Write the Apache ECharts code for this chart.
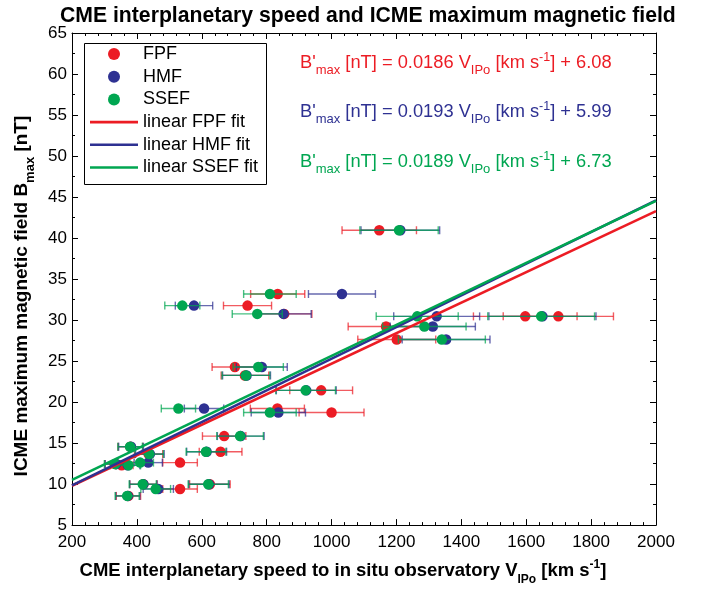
<!DOCTYPE html>
<html>
<head>
<meta charset="utf-8">
<script src="https://cdn.jsdelivr.net/npm/echarts@6/dist/echarts.min.js"></script>
<style>html,body{margin:0;padding:0;background:#fff}#c{width:704px;height:591px}</style>
</head>
<body>
<div id="c"></div>
<script>
// ---- data ----
const B_MAX  = [40.95, 33.18, 31.76, 30.75, 30.45, 30.45, 29.21, 27.63, 24.27, 23.25, 21.43, 19.21, 18.72, 15.85, 14.56, 13.95, 13.66, 12.62, 12.29, 12.45, 9.98, 9.98, 9.41, 8.56];
const V_FPF  = [1147, 834, 741, 854, 1597, 1699, 1168, 1201, 702, 733, 968, 833, 1000, 669, 380, 658, 436, 533, 353, 335, 420, 625, 533, 374];
const V_HMF  = [1212, 1032, 576, 852, 1324, 1650, 1312, 1353, 785, 738, 922, 607, 836, 720, 382, 615, 440, 435, 372, 336, 420, 622, 466, 372];
const V_SSEF = [1208, 810, 540, 771, 1264, 1646, 1286, 1340, 774, 736, 920, 528, 810, 718, 379, 613, 438, 410, 374, 333, 418, 620, 458, 370];
const REL_ERR = 0.10;               // +/- 10 % speed uncertainty
const SERIES_NAMES = ['FPF', 'HMF', 'SSEF'];
const FIT_NAMES = ['linear FPF fit', 'linear HMF fit', 'linear SSEF fit'];
const FIT_SLOPE = [0.0186, 0.0193, 0.0189];
const FIT_INTERCEPT = [6.08, 5.99, 6.73];
const FIT_RANGE = [200, 2000];
const X_TICKS = [200, 400, 600, 800, 1000, 1200, 1400, 1600, 1800, 2000];
const Y_TICKS = [5, 10, 15, 20, 25, 30, 35, 40, 45, 50, 55, 60, 65];

const COLORS = ['#ec1c24', '#2e3192', '#00a651'];
const FONT = 'Liberation Sans, Arial, sans-serif';

const speeds = [V_FPF, V_HMF, V_SSEF];
const series = [];
speeds.forEach((arr, k) => {
  const col = COLORS[k];
  series.push({
    name: SERIES_NAMES[k] + ' error',
    type: 'custom',
    z: 2 + k * 2,
    data: arr.map((v, i) => [v, B_MAX[i], v * (1 - REL_ERR), v * (1 + REL_ERR)]),
    encode: { x: [0, 2, 3], y: 1 },
    renderItem: function (params, api) {
      const y = api.value(1);
      const p1 = api.coord([api.value(2), y]);
      const p2 = api.coord([api.value(3), y]);
      const h = 4;
      const st = { stroke: col, lineWidth: 1.4, opacity: 0.72 };
      return {
        type: 'group',
        children: [
          { type: 'line', shape: { x1: p1[0], y1: p1[1], x2: p2[0], y2: p2[1] }, style: st },
          { type: 'line', shape: { x1: p1[0], y1: p1[1] - h, x2: p1[0], y2: p1[1] + h }, style: st },
          { type: 'line', shape: { x1: p2[0], y1: p2[1] - h, x2: p2[0], y2: p2[1] + h }, style: st }
        ]
      };
    },
    silent: true
  });
  series.push({
    name: SERIES_NAMES[k],
    type: 'scatter',
    z: 3 + k * 2,
    symbol: 'circle',
    symbolSize: 10.5,
    itemStyle: { color: col, opacity: 1 },
    data: arr.map((v, i) => [v, B_MAX[i]])
  });
});
FIT_NAMES.forEach((n, k) => {
  series.push({
    name: n,
    type: 'line',
    z: 10,
    symbol: 'none',
    showSymbol: false,
    lineStyle: { color: COLORS[k], width: 2.6 },
    itemStyle: { color: COLORS[k] },
    data: FIT_RANGE.map(x => [x, FIT_SLOPE[k] * x + FIT_INTERCEPT[k]])
  });
});

function eqText(k) {
  return '{b|B\'}{s|max}{b| [nT] = ' + FIT_SLOPE[k].toFixed(4) + ' V}{s|IPo}{b| [km s}{p|-1}{b|] + ' + FIT_INTERCEPT[k].toFixed(2) + '}';
}
function eqRich(col) {
  return {
    b: { fontSize: 18.3, fontFamily: FONT, fill: col, color: col, lineHeight: 30, verticalAlign: 'middle' },
    s: { fontSize: 13, fontFamily: FONT, fill: col, color: col, lineHeight: 30, verticalAlign: 'bottom', padding: [0, 0, 1, 0] },
    p: { fontSize: 12.5, fontFamily: FONT, fill: col, color: col, lineHeight: 30, verticalAlign: 'top', padding: [3, 0, 0, 0] }
  };
}
const EQ_TOP = [48, 97, 147];

const axisCommon = {
  type: 'value',
  axisLine: { lineStyle: { color: '#000', width: 1 } },
  splitLine: { show: false },
  axisTick: { inside: true, length: 6, lineStyle: { color: '#000' } }
};
const LINE_ICON = 'path://M0,0 L48,0 L48,2.6 L0,2.6 Z';

const option = {
  backgroundColor: '#fff',
  animation: false,
  title: {
    text: 'CME interplanetary speed and ICME maximum magnetic field',
    left: 55,
    top: 1,
    textStyle: { fontFamily: FONT, fontWeight: 'bold', fontSize: 21.2, color: '#000' }
  },
  grid: { left: 72, top: 33, width: 584, height: 494, containLabel: false },
  legend: {
    orient: 'vertical',
    left: 90,
    top: 45,
    padding: 0,
    itemWidth: 48,
    itemHeight: 12,
    itemGap: 4.7,
    textStyle: { fontFamily: FONT, fontSize: 18, color: '#000', lineHeight: 18 },
    data: [
      { name: 'FPF', icon: 'circle' },
      { name: 'HMF', icon: 'circle' },
      { name: 'SSEF', icon: 'circle' },
      { name: FIT_NAMES[0], icon: LINE_ICON },
      { name: FIT_NAMES[1], icon: LINE_ICON },
      { name: FIT_NAMES[2], icon: LINE_ICON }
    ]
  },
  xAxis: [
    Object.assign({}, axisCommon, {
      min: 200, max: 2000, interval: 200,
      minorTick: { show: true, splitNumber: 5, length: 3, lineStyle: { color: '#000' } },
      axisLabel: { fontFamily: FONT, fontSize: 17, color: '#000', margin: 9,
        formatter: v => X_TICKS.includes(v) ? String(v) : '' },
      name: '{b|CME interplanetary speed to in situ observatory V}{s|IPo}{b| [km s}{p|-1}{b|]}',
      nameLocation: 'middle',
      nameGap: 30,
      nameTextStyle: {
        padding: [0, 42, 0, 0],
        rich: {
          b: { fontFamily: FONT, fontWeight: 'bold', fontSize: 18.5, color: '#000', lineHeight: 30, verticalAlign: 'middle' },
          s: { fontFamily: FONT, fontWeight: 'bold', fontSize: 12, color: '#000', lineHeight: 30, verticalAlign: 'bottom' },
          p: { fontFamily: FONT, fontWeight: 'bold', fontSize: 12, color: '#000', lineHeight: 30, verticalAlign: 'top', padding: [3, 0, 0, 0] }
        }
      }
    }),
    Object.assign({}, axisCommon, {
      position: 'top', min: 200, max: 2000, interval: 200,
      minorTick: { show: true, splitNumber: 5, length: 3, lineStyle: { color: '#000' } },
      axisLabel: { show: false }
    })
  ],
  yAxis: [
    Object.assign({}, axisCommon, {
      min: 5, max: 65, interval: 5,
      minorTick: { show: true, splitNumber: 2, length: 3, lineStyle: { color: '#000' } },
      axisLabel: { fontFamily: FONT, fontSize: 17, color: '#000', margin: 5,
        formatter: v => Y_TICKS.includes(v) ? String(v) : '' },
      name: '{b|ICME maximum magnetic field B}{s|max}{b| [nT]}',
      nameLocation: 'middle',
      nameRotate: 90,
      nameGap: 31,
      nameTextStyle: {
        padding: [0, 34, 0, 0],
        rich: {
          b: { fontFamily: FONT, fontWeight: 'bold', fontSize: 19, color: '#000', lineHeight: 30, verticalAlign: 'middle' },
          s: { fontFamily: FONT, fontWeight: 'bold', fontSize: 13, color: '#000', lineHeight: 30, verticalAlign: 'bottom' }
        }
      }
    }),
    Object.assign({}, axisCommon, {
      position: 'right', min: 5, max: 65, interval: 5,
      minorTick: { show: true, splitNumber: 2, length: 3, lineStyle: { color: '#000' } },
      axisLabel: { show: false }
    })
  ],
  graphic: [
    { type: 'rect', left: 82, top: 41, shape: { width: 182, height: 141 },
      style: { fill: 'none', stroke: '#000', lineWidth: 1 }, z: 20 }
  ].concat([0, 1, 2].map(k => ({
    type: 'text', left: 300, top: EQ_TOP[k], z: 20,
    style: { text: eqText(k), rich: eqRich(COLORS[k]), fill: COLORS[k] }
  }))),
  series: series
};

const chart = echarts.init(document.getElementById('c'), null, { renderer: 'canvas' });
chart.setOption(option);
</script>
</body>
</html>
